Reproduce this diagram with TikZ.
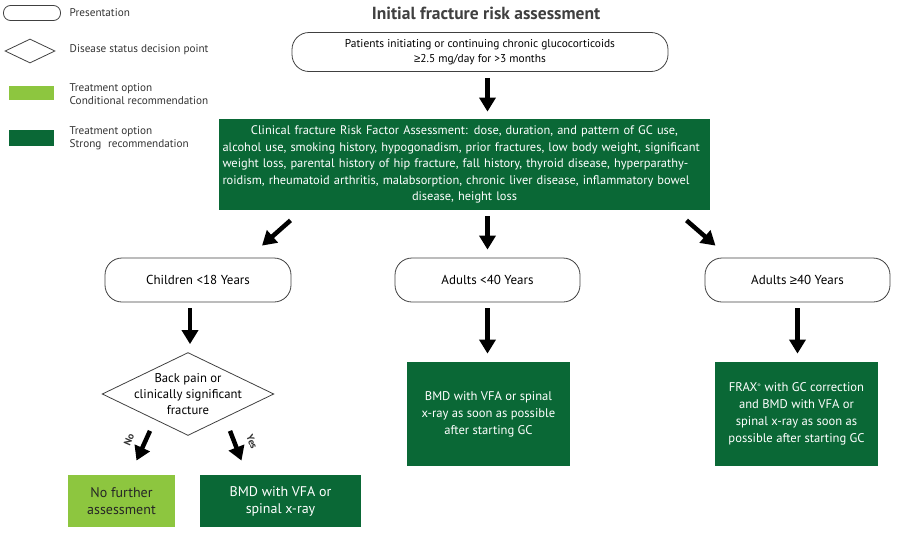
\documentclass[tikz,border=0pt]{standalone}
\usepackage{fontspec}
\setmainfont{PT Sans}
\newfontfamily\symbfont{Liberation Sans}
\usetikzlibrary{arrows.meta,shapes.geometric,calc}

\definecolor{darkgreen}{RGB}{10,104,54}
\definecolor{lightgreen}{RGB}{141,198,63}
\newcommand{\geqsym}{{\symbfont ≥}}
\newcommand{\fullline}[1]{\makebox[484pt][s]{#1}}

\tikzset{
every picture/.style={
line width=0.8pt
},
presentation/.style={draw=black!75, rounded corners=17pt, align=center, inner sep=0pt, font=\fontsize{13}{16}\selectfont},
decision/.style={draw=black!75, diamond, aspect=2.07, inner sep=-3.5pt, align=center, font=\fontsize{12.7}{16}\selectfont},
strong/.style={fill=darkgreen, text=white, align=center, inner sep=0pt, font=\fontsize{12.6}{17}\selectfont},
conditional/.style={fill=lightgreen, text=black!85, align=center, inner sep=0pt, font=\fontsize{12.6}{17}\selectfont},
legendtext/.style={anchor=west, align=left, text=black!80, font=\fontsize{11.2}{13.5}\selectfont},
yesno/.style={font=\fontsize{10}{12}\selectfont\bfseries, text=black!80, inner sep=0pt},
arr/.style={line width=4.5pt, -{Triangle[length=14pt,width=16pt]}}
}

\begin{document}
\begin{tikzpicture}[x=1pt,y=-1pt]
  \useasboundingbox (0,0) rectangle (900,533);

  % legend
  \node[presentation, minimum width=57pt, minimum height=15pt, rounded corners=7pt] (lpres) at (32,13) {};
  \node[legendtext] (lprestext) at (66,13) {Presentation};
  \node[decision, minimum width=50pt, minimum height=24pt, aspect=2] (ldec) at (30,51) {};
  \node[legendtext] (ldectext) at (66,50) {Disease status decision point};
  \node[conditional, minimum width=45pt, minimum height=14pt] (lcond) at (31,93) {};
  \node[legendtext] (lcondtext) at (66,94) {Treatment option\\Conditional recommendation};
  \node[strong, minimum width=45pt, minimum height=16pt] (lstrong) at (31,138) {};
  \node[legendtext] (lstrongtext) at (66,138) {Treatment option\\Strong\,\, recommendation};

  \node[font=\fontsize{17.5}{20}\selectfont\bfseries, text=black!75] (title) at (486,13) {Initial fracture risk assessment};

  % main flow
  \node[presentation, minimum width=376pt, minimum height=39pt, font=\fontsize{11.4}{15}\selectfont] (top) at (480,52)
    {Patients initiating or continuing chronic glucocorticoids\\\geqsym2.5 mg/day for >3 months};
  \node[strong, minimum width=491pt, minimum height=91pt, text width=484pt, font=\fontsize{12.4}{16.5}\selectfont] (risk) at (464.5,164.5)
    {Clinical fracture Risk Factor Assessment: dose, duration, and pattern of GC use,\\
     \fullline{alcohol use, smoking history, hypogonadism, prior fractures, low body weight, significant}\\
     \fullline{weight loss, parental history of hip fracture, fall history, thyroid disease, hyperparathy-}\\
     \fullline{roidism, rheumatoid arthritis, malabsorption, chronic liver disease, inflammatory bowel}\\
     disease, height loss};

  \node[presentation, minimum width=186pt, minimum height=44pt] (children) at (198,280) {Children <18 Years};
  \node[presentation, minimum width=185pt, minimum height=44pt] (young) at (487.5,280) {Adults <40 Years};
  \node[presentation, minimum width=185pt, minimum height=44pt] (old) at (797.5,280) {Adults \geqsym40 Years};

  \node[decision, minimum width=170pt, minimum height=82pt] (backpain) at (188,394)
    {Back pain or\\clinically significant\\fracture};

  \node[strong, minimum width=163pt, minimum height=104pt] (youngbmd) at (488.5,414)
    {BMD with VFA or spinal\\x-ray as soon as possible\\after starting GC};
  \node[strong, minimum width=163pt, minimum height=104pt] (frax) at (796.5,414)
    {FRAX\textsuperscript{\tiny\textregistered} with GC correction\\and BMD with VFA or\\spinal x-ray as soon as\\possible after starting GC};

  \node[conditional, minimum width=107pt, minimum height=52pt, font=\fontsize{14}{17}\selectfont] (nofurther) at (121.5,501)
    {No further\\assessment};
  \node[strong, minimum width=161pt, minimum height=52pt, font=\fontsize{14}{17}\selectfont] (childbmd) at (280.5,501)
    {BMD with VFA or\\spinal x-ray};

  % arrows
  \draw[arr, shorten <=6pt, shorten >=7pt] (top.south -| young.north) -- (risk.north -| young.north);
  \draw[arr] ([xshift=-174pt,yshift=-10pt]risk.south) -- ([xshift=64pt,yshift=12pt]children.north);
  \draw[arr, shorten <=6pt, shorten >=8pt] (risk.south -| young.north) -- (young.north);
  \draw[arr] ([xshift=222pt,yshift=-10pt]risk.south) -- ([xshift=-82pt,yshift=12pt]old.north);
  \foreach \n/\m/\s in {children/backpain/-8, young/youngbmd/0, old/frax/0}{
    \draw[arr, shorten <=6pt, shorten >=8pt] ([xshift=\s pt]\n.south) -- ([xshift=\s pt]\n.south |- \m.north);
  }
  \draw[arr] ([xshift=-38pt,yshift=5pt]backpain.south) -- ([xshift=15pt,yshift=14pt]nofurther.north);
  \draw[arr] ([xshift=42pt,yshift=5pt]backpain.south) -- ([xshift=-39pt,yshift=14pt]childbmd.north);
  \node[yesno, rotate=67] (nolabel) at (129,440) {No};
  \node[yesno, rotate=-67] (yeslabel) at (252,442) {Yes};
\end{tikzpicture}
\end{document}
